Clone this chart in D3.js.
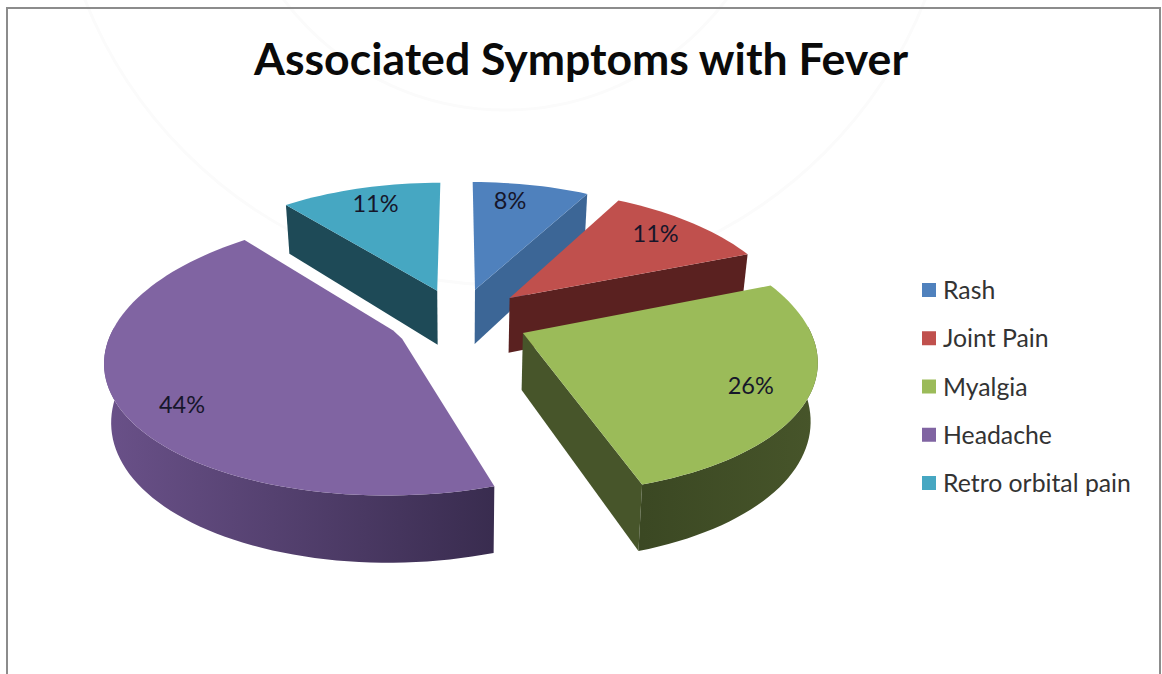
<!DOCTYPE html>
<html>
<head>
<meta charset="utf-8">
<title>Associated Symptoms with Fever</title>
<script src="https://cdnjs.cloudflare.com/ajax/libs/d3/7.8.5/d3.min.js"></script>
<style>
  html, body { margin: 0; padding: 0; background: #fff; }
  svg { display: block; font-family: Lato, "Open Sans", sans-serif; }
</style>
</head>
<body>
<svg id="chart" width="1162" height="674"></svg>
<script>
const chartTitle = "Associated Symptoms with Fever";
const symptoms = ["Rash", "Joint Pain", "Myalgia", "Headache", "Retro orbital pain"];
const shares = [8, 11, 26, 44, 11];
const topColors = ["#4f81bd", "#c0504d", "#9bbb59", "#8064a2", "#46a7c2"];
const wallColors = ["#3c6696", "#5a2120", "#47552a", "#4f3d68", "#1e4a57"];
const rimDark = ["#34597f", "#4a1b1a", "#3b4823", "#352a49", "#1a414d"];
const explodeBy = [0.236, 0.245, 0.245, 0.236, 0.236];
const apexBevel = [0, 0, 0, 0.035, 0];
const labelNudgeX = [-10, 2, -13, -2, 0];
const labelNudgeY = [-5, -4, 1, 16, -5];
const labelReach = [0.78, 0.78, 0.85, 0.78, 0.78];

// Projection of the tilted pie: unit-radius disc seen in perspective.
const cx = 459, cy = 319, scaleX = 283, scaleY = 132, recede = 0.15, recedeXPower = 1.15;
const thickness = 56, wallShrink = 0.98;

function project(x, y, z) {
  const w = 1 + recede * y;
  const sx = scaleX * x / Math.pow(w, recedeXPower);
  const sy = -scaleY * y / w;
  if (!z) return [cx + sx, cy + sy];
  return [cx + sx * wallShrink, cy + sy + thickness / w];
}

const svg = d3.select("#chart");
const defs = svg.append("defs");
const line = d3.line();
const color = d3.scaleOrdinal(symptoms, topColors);
const wallColor = d3.scaleOrdinal(symptoms, wallColors);
const rimColor = d3.scaleOrdinal(symptoms, rimDark);

// Faint seal in the page background
const seal = svg.append("g").attr("fill", "none").attr("stroke", "#fbfbfb").attr("stroke-width", 3);
seal.append("circle").attr("cx", 505).attr("cy", -167).attr("r", 452);
seal.append("circle").attr("cx", 505).attr("cy", -167).attr("r", 277);

// Frame around the chart area
svg.append("path")
  .attr("d", "M7,674V8H1160V674")
  .attr("fill", "none").attr("stroke", "#8c8c8c").attr("stroke-width", 2);

// Title
svg.append("text")
  .attr("x", 581).attr("y", 75)
  .attr("text-anchor", "middle")
  .attr("font-size", 43).attr("font-weight", 700).attr("fill", "#0a0a0a")
  .attr("textLength", 654).attr("lengthAdjust", "spacingAndGlyphs")
  .text(chartTitle);

const arcs = d3.pie().sort(null).value(d => d)(shares);
const sliceData = arcs.map((a, i) => {
  const mid = (a.startAngle + a.endAngle) / 2;
  const ox = explodeBy[i] * Math.sin(mid), oy = explodeBy[i] * Math.cos(mid);
  const steps = Math.max(8, Math.round((a.endAngle - a.startAngle) * 30));
  const rim = d3.range(steps + 1).map(k => a.startAngle + (a.endAngle - a.startAngle) * k / steps);
  return { name: symptoms[i], value: a.value, i, mid, ox, oy, rim, start: a.startAngle, end: a.endAngle };
});

// Back slices first so that the nearer ones overlap them
const paintOrder = ["Retro orbital pain", "Rash", "Joint Pain", "Myalgia", "Headache"];
const slices = svg.append("g");

paintOrder.forEach(name => {
  const s = sliceData.find(d => d.name === name);
  const g = slices.append("g");
  const rimPoint = (t, z) => project(s.ox + Math.sin(t), s.oy + Math.cos(t), z);
  const apex = z => project(s.ox, s.oy, z);

  // Cut faces that turn towards the viewer
  if (Math.cos(s.end + Math.PI / 2) < 0) {
    g.append("path")
      .attr("d", line([apex(0), rimPoint(s.end, 0), rimPoint(s.end, 1), apex(1)]) + "Z")
      .attr("fill", wallColor(name));
  }
  if (Math.cos(s.start - Math.PI / 2) < 0) {
    g.append("path")
      .attr("d", line([apex(0), rimPoint(s.start, 0), rimPoint(s.start, 1), apex(1)]) + "Z")
      .attr("fill", wallColor(name));
  }

  // Outer curved wall, shaded across its width
  const front = s.rim.filter(t => Math.cos(t) < 0.05);
  if (front.length > 1) {
    const gradId = "rim" + s.i;
    const xs = front.map(t => rimPoint(t, 0)[0]);
    const grad = defs.append("linearGradient")
      .attr("id", gradId).attr("gradientUnits", "userSpaceOnUse")
      .attr("x1", d3.min(xs)).attr("x2", d3.max(xs)).attr("y1", 0).attr("y2", 0);
    const leftIsLight = name === "Headache";
    grad.append("stop").attr("offset", 0).attr("stop-color", leftIsLight ? "#6a5189" : rimColor(name));
    grad.append("stop").attr("offset", 1).attr("stop-color", leftIsLight ? "#392c4f" : wallColor(name));
    const outline = front.map(t => rimPoint(t, 0)).concat(front.slice().reverse().map(t => rimPoint(t, 1)));
    g.append("path").attr("d", line(outline) + "Z").attr("fill", `url(#${gradId})`);
  }

  // Top face, with the point trimmed where the slice has a blunt tip
  const b = apexBevel[s.i];
  const tip = b > 0
    ? [project(s.ox + b * Math.sin(s.end), s.oy + b * Math.cos(s.end), 0),
       project(s.ox + b * Math.sin(s.start), s.oy + b * Math.cos(s.start), 0)]
    : [apex(0)];
  g.append("path")
    .attr("d", line(tip.concat(s.rim.map(t => rimPoint(t, 0)))) + "Z")
    .attr("fill", color(name));
});

// Percentage labels on the top faces
svg.append("g")
  .selectAll("text")
  .data(sliceData)
  .join("text")
  .attr("x", d => project(d.ox + labelReach[d.i] * Math.sin(d.mid), d.oy + labelReach[d.i] * Math.cos(d.mid), 0)[0] + labelNudgeX[d.i])
  .attr("y", d => project(d.ox + labelReach[d.i] * Math.sin(d.mid), d.oy + labelReach[d.i] * Math.cos(d.mid), 0)[1] + labelNudgeY[d.i] + 8)
  .attr("text-anchor", "middle")
  .attr("font-size", 23.5)
  .attr("fill", "#16162a")
  .text(d => d.value + "%");

// Legend
const legendY = d3.scalePoint(symptoms, [291, 484]);
const legend = svg.append("g")
  .selectAll("g")
  .data(symptoms)
  .join("g")
  .attr("transform", d => `translate(922,${legendY(d)})`);
legend.append("rect")
  .attr("x", 0).attr("y", -8).attr("width", 14).attr("height", 14)
  .attr("fill", d => color(d));
legend.append("text")
  .attr("x", 21).attr("y", 8)
  .attr("font-size", 24.8).attr("fill", "#333")
  .text(d => d);
</script>
</body>
</html>
